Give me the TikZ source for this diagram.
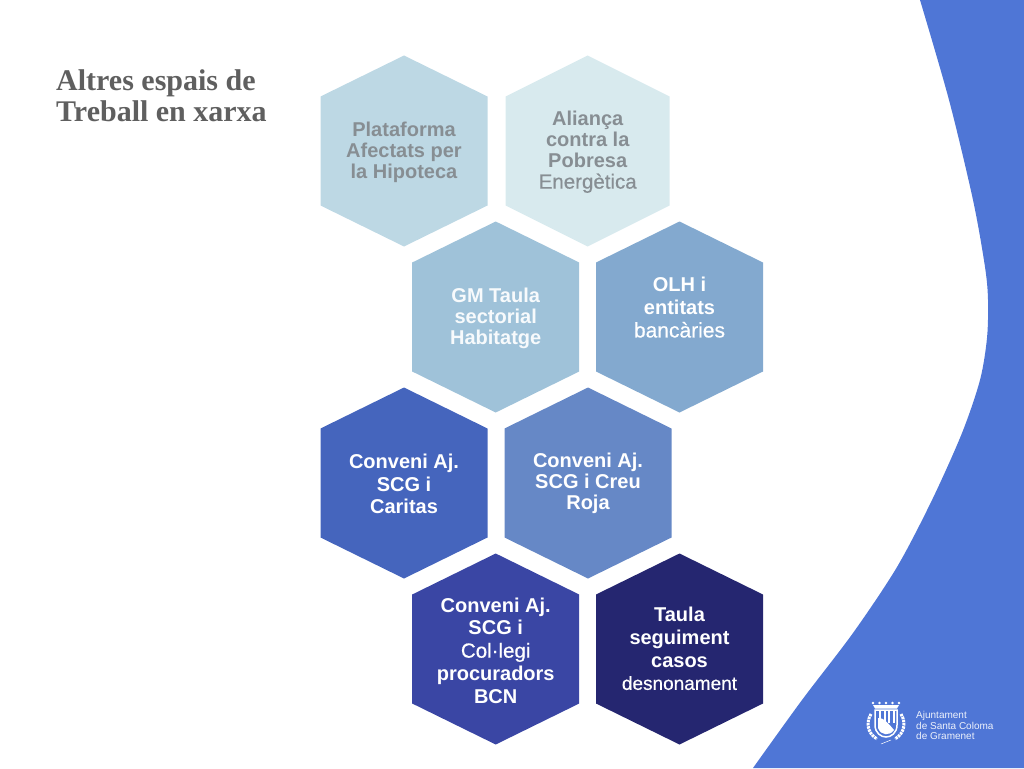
\documentclass[tikz,border=0pt]{standalone}
\usepackage{xcolor}
\usepackage{fontspec}
\setmainfont{Liberation Sans}
\newfontfamily\titlefont{Liberation Serif}
\newfontfamily\midfont[FakeBold=0.5]{Liberation Sans}
\definecolor{wave}{HTML}{4F76D6}
\definecolor{hexa}{HTML}{BDD8E4}
\definecolor{hexb}{HTML}{D8EAEE}
\definecolor{hexc}{HTML}{9FC2D9}
\definecolor{hexd}{HTML}{83A9CF}
\definecolor{hexe}{HTML}{4565BD}
\definecolor{hexf}{HTML}{6688C6}
\definecolor{hexg}{HTML}{3A46A4}
\definecolor{hexh}{HTML}{252670}
\definecolor{greylabel}{HTML}{878E93}
\definecolor{titlegrey}{HTML}{5F5F5F}
\newcommand{\hexcell}[4][83.5]{\fill[#4] (#2,#3) ++(0,-95.5) -- ++(#1,41) -- ++(0,109) -- ++(-#1,41) -- ++(-#1,-41) -- ++(0,-109) -- cycle;}
\newcommand{\lighter}[1]{{\midfont\mdseries #1}}

\begin{document}
\begin{tikzpicture}[x=1pt, y=-1pt]
\tikzstyle{hexlabel}=[align=center, inner sep=0pt, font=\fontsize{20}{21}\selectfont\bfseries]
\tikzstyle{darklabel}=[hexlabel, white, font=\fontsize{20}{22.8}\selectfont\bfseries]
\tikzstyle{logotext}=[align=left, anchor=west, inner sep=0pt, text=white!90!wave, font=\fontsize{10}{10.6}\selectfont]
\tikzstyle{laurel}=[white, line width=3, dash pattern=on 2.4pt off .8pt]
\useasboundingbox (0,0) rectangle (1024,768);

% background wave
\fill[wave] plot[smooth] coordinates {(920,0) (949,100) (973,200) (985,267) (988,300) (987,338) (980,380)
  (962,433) (932,500) (897,567) (853,633) (802,700) (753,768)} -- (1024,768) -- (1024,0) -- cycle;

\node[align=left, anchor=west, inner sep=0pt, text=titlegrey, font=\fontsize{30}{31}\selectfont\titlefont\bfseries] (title) at (56,95.5) {Altres espais de\\Treball en xarxa};

\hexcell{404}{151}{hexa}
\hexcell[82]{587.7}{151}{hexb}
\hexcell{495.7}{317}{hexc}
\hexcell{679.5}{317}{hexd}
\hexcell{404}{483}{hexe}
\hexcell{588}{483}{hexf}
\hexcell{495.7}{649}{hexg}
\hexcell{679.5}{649}{hexh}

\node[hexlabel, greylabel] (plataforma) at (404,152) {Plataforma\\Afectats per\\la Hipoteca};
\node[hexlabel, greylabel] (alianca) at (587.7,152) {Aliança\\contra la\\Pobresa\\\lighter{\fontsize{20.5}{21}\selectfont Energètica}};
\node[hexlabel, white!92!hexc] (taula) at (495.7,318) {GM Taula\\sectorial\\Habitatge};
\node[darklabel] (olh) at (679.5,307.5) {OLH i\\entitats\\\lighter{\fontsize{21}{22.8}\selectfont bancàries}};
\node[darklabel] (caritas) at (404,484) {Conveni Aj.\\SCG i\\Caritas};
\node[hexlabel, white] (creu) at (588,483) {Conveni Aj.\\SCG i Creu\\Roja};
\node[darklabel] (procuradors) at (495.7,650.5) {Conveni Aj.\\SCG i\\\lighter{\fontsize{20.5}{22.8}\selectfont Col·legi}\\procuradors\\BCN};
\node[darklabel] (seguiment) at (679.5,648.5) {Taula\\seguiment\\casos\\\lighter{\fontsize{19}{22.8}\selectfont desnonament}};

% logo
\node[logotext] (ajuntament) at (916,725.5) {Ajuntament\\de Santa Coloma\\de Gramenet};
\foreach \dotx in {873,879.5,886,892.5,899}
  \fill[white] (\dotx,703) circle (1.4);
\fill[white] (873,705) -- (899,705) -- (897,708.5) -- (875,708.5) -- cycle;
\draw[white, line width=1.5] (875,710) -- (897,710) -- (897,725) .. controls (897,733) and (891,737) .. (886,737)
  .. controls (881,737) and (875,733) .. (875,725) -- cycle;
\foreach \barx in {879,883.5,888,892.5}
  \fill[white] (\barx,711) rectangle ++(2.2,12);
\fill[white] (878,718) .. controls (883,717) and (889,724) .. (894,730) .. controls (890,736) and (881,736) .. (878,728) -- cycle;
\draw[laurel] (871,714) .. controls (866,722) and (867,733) .. (877,739);
\draw[laurel] (901,714) .. controls (906,722) and (905,733) .. (895,739);
\draw[white, line width=.5] (881,744) -- (891,740);

\end{tikzpicture}
\end{document}
